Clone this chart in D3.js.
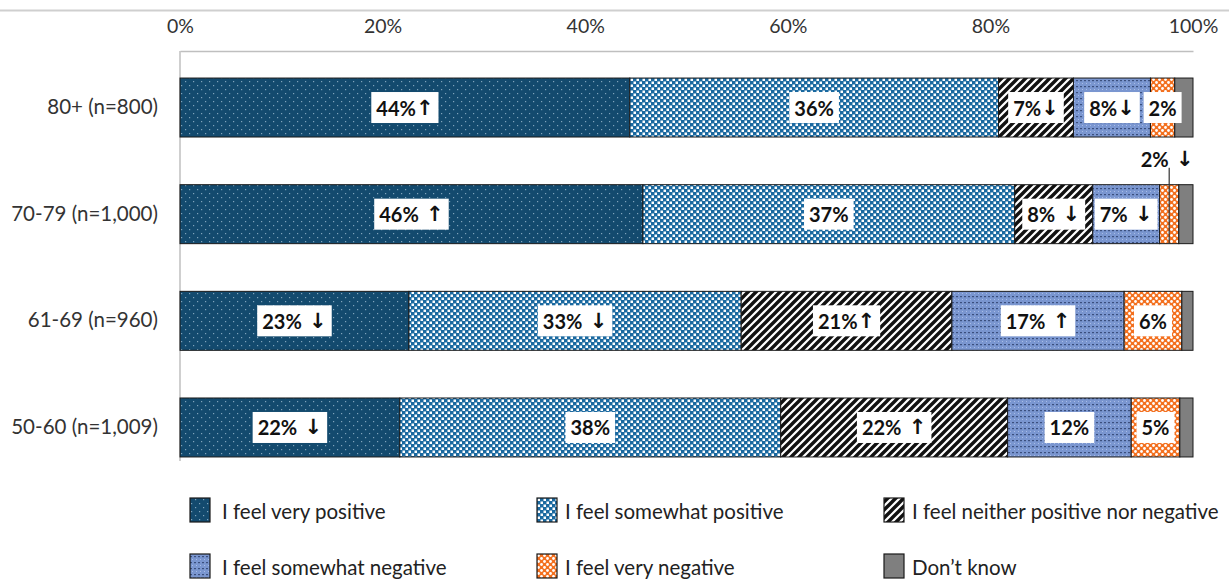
<!DOCTYPE html>
<html>
<head>
<meta charset="utf-8">
<script src="https://cdn.jsdelivr.net/npm/d3@7"></script>
<style>
  html, body { margin: 0; padding: 0; background: #fff; }
  svg { display: block; font-family: Lato, "DejaVu Sans", sans-serif; }
</style>
</head>
<body>
<svg id="chart" width="1229" height="581"></svg>
<script>
// Age groups, top to bottom
const categories = ["80+ (n=800)", "70-79 (n=1,000)", "61-69 (n=960)", "50-60 (n=1,009)"];

// Share of respondents per answer (%)
const veryPositive     = [44.4, 45.7, 22.6, 21.7];
const somewhatPositive = [36.4, 36.7, 32.8, 37.6];
const neither          = [7.4, 7.7, 20.8, 22.4];
const somewhatNegative = [7.6, 6.6, 17.0, 12.2];
const veryNegative     = [2.4, 1.9, 5.7, 4.8];
const dontKnow         = [1.8, 1.4, 1.1, 1.3];

// Significance markers appended to the value labels
const veryPositiveSig     = ["↑", " ↑", " ↓", " ↓"];
const somewhatPositiveSig = ["", "", " ↓", ""];
const neitherSig          = ["↓", " ↓", "↑", " ↑"];
const somewhatNegativeSig = ["↓", " ↓", " ↑", ""];
const veryNegativeSig     = ["", " ↓", "", ""];

const seriesNames = [
  "I feel very positive",
  "I feel somewhat positive",
  "I feel neither positive nor negative",
  "I feel somewhat negative",
  "I feel very negative",
  "Don\u2019t know"
];
const xTicks = [0, 20, 40, 60, 80, 100];

const seriesDefs = [
  { name: seriesNames[0], values: veryPositive, sig: veryPositiveSig, fill: "url(#pVeryPos)" },
  { name: seriesNames[1], values: somewhatPositive, sig: somewhatPositiveSig, fill: "url(#pSomePos)" },
  { name: seriesNames[2], values: neither, sig: neitherSig, fill: "url(#pNeither)" },
  { name: seriesNames[3], values: somewhatNegative, sig: somewhatNegativeSig, fill: "url(#pSomeNeg)" },
  { name: seriesNames[4], values: veryNegative, sig: veryNegativeSig, fill: "url(#pVeryNeg)" },
  { name: seriesNames[5], values: dontKnow, sig: null, fill: "#7f7f7f" }
];

const svg = d3.select("#chart");
const defs = svg.append("defs");

// --- fill patterns ---
// dark blue with small light dots
let p = defs.append("pattern").attr("id", "pVeryPos").attr("patternUnits", "userSpaceOnUse")
  .attr("width", 8).attr("height", 8);
p.append("rect").attr("width", 8).attr("height", 8).attr("fill", "#134a6e");
p.append("rect").attr("x", 1).attr("y", 1).attr("width", 1.2).attr("height", 1.2).attr("fill", "#7fa3bb");
p.append("rect").attr("x", 5).attr("y", 5).attr("width", 1.2).attr("height", 1.2).attr("fill", "#7fa3bb");

// blue / white checkerboard
p = defs.append("pattern").attr("id", "pSomePos").attr("patternUnits", "userSpaceOnUse")
  .attr("width", 6).attr("height", 6);
p.append("rect").attr("width", 6).attr("height", 6).attr("fill", "#1a69a0");
p.append("rect").attr("x", 0.5).attr("y", 0.5).attr("width", 2.5).attr("height", 2.5).attr("fill", "#ffffff");
p.append("rect").attr("x", 3.5).attr("y", 3.5).attr("width", 2.5).attr("height", 2.5).attr("fill", "#ffffff");

// black diagonal stripes
p = defs.append("pattern").attr("id", "pNeither").attr("patternUnits", "userSpaceOnUse")
  .attr("width", 8).attr("height", 8);
p.append("rect").attr("width", 8).attr("height", 8).attr("fill", "#ffffff");
p.append("path").attr("d", "M-2,2 L2,-2 M0,8 L8,0 M6,10 L10,6")
  .attr("stroke", "#111").attr("stroke-width", 3.4);

// periwinkle with dark horizontal dashes
p = defs.append("pattern").attr("id", "pSomeNeg").attr("patternUnits", "userSpaceOnUse")
  .attr("width", 4).attr("height", 6);
p.append("rect").attr("width", 4).attr("height", 6).attr("fill", "#7a96d0");
p.append("rect").attr("x", 0).attr("y", 2).attr("width", 2).attr("height", 1.2).attr("fill", "#3b4f7e");
p.append("rect").attr("x", 2).attr("y", 5).attr("width", 1).attr("height", 1).attr("fill", "#a9bde6");

// orange with white dots
p = defs.append("pattern").attr("id", "pVeryNeg").attr("patternUnits", "userSpaceOnUse")
  .attr("width", 6).attr("height", 6);
p.append("rect").attr("width", 6).attr("height", 6).attr("fill", "#f3701f");
p.append("circle").attr("cx", 1.5).attr("cy", 1.5).attr("r", 1.4).attr("fill", "#ffffff");
p.append("circle").attr("cx", 4.5).attr("cy", 4.5).attr("r", 1.4).attr("fill", "#ffffff");

// --- scales ---
const x = d3.scaleLinear().domain([0, 100]).range([180, 1193]);
const y = d3.scaleBand().domain(categories).range([54.2, 480.8])
  .paddingInner(0.447).paddingOuter(0.2235);

// --- frame lines ---
svg.append("line").attr("x1", 0).attr("x2", 1229).attr("y1", 10.5).attr("y2", 10.5)
  .attr("stroke", "#cfcfcf").attr("stroke-width", 2);

// top value axis
const xAxis = d3.axisTop(x).tickValues(xTicks).tickFormat(d => d + "%").tickSize(0).tickPadding(18);
const gx = svg.append("g").attr("transform", "translate(0,51)").call(xAxis);
gx.select(".domain").attr("stroke", "#bfbfbf").attr("stroke-width", 1.5);
gx.selectAll("text").attr("font-size", 19.5).attr("fill", "#333").attr("font-family", "Lato, sans-serif");

// left category axis
const yAxis = d3.axisLeft(y).tickSize(0).tickPadding(22);
const gy = svg.append("g").attr("transform", "translate(180,0)").call(yAxis);
gy.select(".domain").remove();
gy.selectAll("text").attr("font-size", 20.5).attr("fill", "#333").attr("font-family", "Lato, sans-serif");
svg.append("line").attr("x1", 180).attr("x2", 180).attr("y1", 51).attr("y2", 461)
  .attr("stroke", "#bfbfbf").attr("stroke-width", 1.5);

// --- stacked segments ---
const rows = categories.map((c, i) => {
  let acc = 0;
  return seriesDefs.map(s => {
    const seg = { cat: c, x0: acc, x1: acc + s.values[i], v: s.values[i], s: s, i: i };
    acc += s.values[i];
    return seg;
  });
});
const segments = rows.flat();

svg.append("g").selectAll("rect").data(segments).join("rect")
  .attr("x", d => x(d.x0))
  .attr("y", d => y(d.cat))
  .attr("width", d => x(d.x1) - x(d.x0))
  .attr("height", y.bandwidth())
  .attr("fill", d => d.s.fill)
  .attr("stroke", "#1a1a1a")
  .attr("stroke-width", 1);

// --- value labels (number + significance arrow) ---
const labelG = svg.append("g");
segments.filter(d => d.s.sig).forEach(d => {
  const cx = (x(d.x0) + x(d.x1)) / 2;
  const cy = y(d.cat) + y.bandwidth() / 2;
  const g = labelG.append("g");
  const t = g.append("text")
    .attr("font-size", 20).attr("font-weight", "bold").attr("fill", "#111")
    .attr("text-anchor", "middle").attr("dominant-baseline", "central");
  t.append("tspan").text(Math.round(d.v) + "%");
  const sig = d.s.sig[d.i];
  if (sig) {
    t.append("tspan").text(sig)
      .attr("font-family", "'DejaVu Sans', sans-serif")
      .attr("font-weight", "bold").attr("font-size", 21);
  }
  const w = t.node().getComputedTextLength();
  const segW = x(d.x1) - x(d.x0);
  if (w + 10 > segW + 16) {
    // too narrow: place above the bar with a leader line
    const ty = y(d.cat) - 26;
    t.attr("x", cx - 2).attr("y", ty);
    g.insert("line", "text").attr("x1", cx).attr("x2", cx)
      .attr("y1", ty + 9).attr("y2", y(d.cat) + y.bandwidth())
      .attr("stroke", "#333").attr("stroke-width", 1.2);
  } else {
    t.attr("x", cx).attr("y", cy);
    g.insert("rect", "text")
      .attr("x", cx - w / 2 - 5).attr("y", cy - 15.5)
      .attr("width", w + 10).attr("height", 31)
      .attr("fill", "#fff");
  }
});

// --- legend ---
const legendCols = [190, 537, 884];
const legendRows = [510, 566];
const lg = svg.append("g").selectAll("g").data(seriesDefs).join("g")
  .attr("transform", (d, i) => `translate(${legendCols[i % 3]},${legendRows[Math.floor(i / 3)]})`);
lg.append("rect").attr("x", 0).attr("y", -12).attr("width", 20).attr("height", 24)
  .attr("fill", d => d.fill).attr("stroke", "#1a1a1a").attr("stroke-width", 1.2);
lg.append("text").text(d => d.name)
  .attr("x", (d, i) => i % 3 === 0 ? 32 : 28)
  .attr("y", 1).attr("dominant-baseline", "central")
  .attr("font-size", 20.5).attr("fill", "#222");
</script>
</body>
</html>
